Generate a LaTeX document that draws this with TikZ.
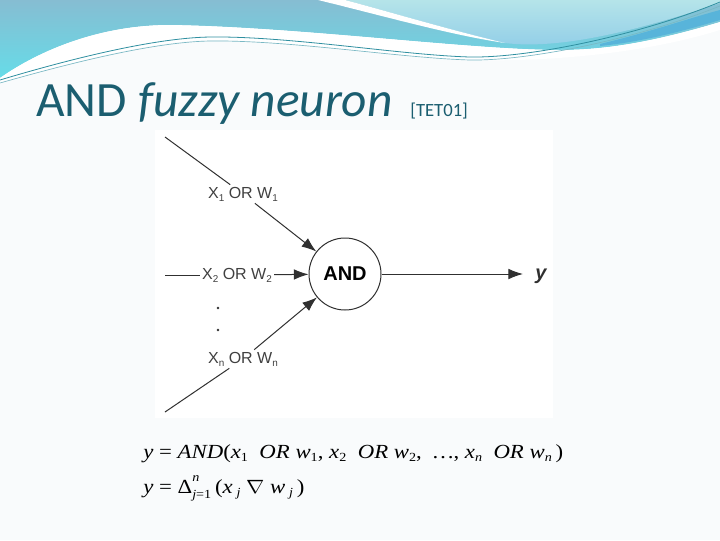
\documentclass[tikz,border=0pt]{standalone}
\usepackage{fontspec}
\usepackage{graphicx}
\setmainfont{Carlito}
\newfontfamily\diafont{Liberation Sans}
\newfontfamily\formfont{Liberation Serif}
\usetikzlibrary{arrows.meta}
\definecolor{titlecol}{HTML}{1B5E70}
\definecolor{wirecol}{HTML}{303030}
\definecolor{labcol}{HTML}{404040}
\definecolor{bgcol}{HTML}{F9FBFC}
\definecolor{hdtop}{HTML}{86BDD2}
\definecolor{hdbot}{HTML}{66DCE8}
\definecolor{ltop}{HTML}{B5E4E9}
\definecolor{lbot}{HTML}{90CDE8}
\definecolor{band}{HTML}{58B4DA}
\definecolor{lineA}{HTML}{2F8FA0}
\definecolor{lineB}{HTML}{7AB8C4}
\newcommand\lsub[1]{\raisebox{-0.35ex}{\scalebox{0.62}{#1}}}
\tikzset{
  wire/.style={draw=wirecol, line width=0.75pt},
  arr/.style={-{Latex[length=11pt,width=8pt]}},
  lab/.style={font=\diafont\fontsize{12pt}{14pt}\selectfont, text=labcol, inner sep=1.5pt},
  formula/.style={font=\formfont\fontsize{15pt}{18pt}\selectfont, anchor=base west, inner sep=0pt}
}
\begin{document}
\begin{tikzpicture}[x=0.75pt,y=-0.75pt]
\useasboundingbox (0,0) rectangle (720,540);
\fill[bgcol] (0,0) rectangle (720,540);
% header swooshes
\shade[top color=hdtop, bottom color=hdbot]
  (0,0) -- (720,0) -- (720,22) .. controls (660,40) and (610,50) .. (560,50)
  .. controls (470,50) and (300,27) .. (170,25) .. controls (100,25) and (40,50) .. (0,78) -- cycle;
\shade[top color=ltop, bottom color=lbot]
  (345,0) .. controls (390,12) and (450,30) .. (505,43) .. controls (560,50) and (640,30) .. (720,3) -- (720,0) -- cycle;
\fill[white] (318,0) .. controls (380,15) and (450,35) .. (505,43) .. controls (450,30) and (390,12) .. (345,0) -- cycle;
\fill[band] (600,44) .. controls (650,32) and (690,18) .. (720,10) -- (720,20) .. controls (680,32) and (640,42) .. (600,46) -- cycle;
\fill[white] (0,78) .. controls (40,50) and (100,25) .. (170,25) .. controls (300,27) and (470,50) .. (560,50)
  .. controls (610,50) and (660,40) .. (720,22) -- (720,30) .. controls (640,55) and (540,62) .. (470,60)
  .. controls (400,58) and (290,40) .. (210,40) .. controls (150,41) and (60,65) .. (0,84) -- cycle;
\draw[lineA, line width=0.6pt] (0,80) .. controls (60,62) and (150,38) .. (210,37) .. controls (290,36) and (400,55) .. (470,57) .. controls (530,58) and (640,35) .. (720,2);
\draw[lineB, line width=0.5pt] (0,83) .. controls (60,66) and (150,42) .. (210,41) .. controls (290,40) and (400,58) .. (470,60) .. controls (530,61) and (640,38) .. (720,6);
% diagram area
\fill[white] (155,130) rectangle (553,418);
% title
\node[anchor=base west, inner sep=0pt, text=titlecol, font=\fontsize{37pt}{42pt}\selectfont] (title) at (36,116) {AND \textit{fuzzy neuron}};
\node[anchor=base west, inner sep=0pt, text=titlecol, font=\fontsize{14pt}{16pt}\selectfont] (ref) at (410,116) {[TET01]};
% neuron
\node[circle, draw=wirecol, line width=0.75pt, minimum size=54pt, inner sep=0pt, font=\diafont\bfseries\fontsize{15pt}{17pt}\selectfont] (and) at (345,274) {AND};
\coordinate (s1) at (165,137);
\coordinate (s2) at (165,275);
\coordinate (s3) at (165,412);
\coordinate (yend) at (523,274);
\node[lab] (l1) at (243,194) {X\lsub{1} OR W\lsub{1}};
\node[lab] (l2) at (237,275) {X\lsub{2} OR W\lsub{2}};
\node[lab] (l3) at (243,359) {X\lsub{n} OR W\lsub{n}};
\node[font=\diafont\bfseries\itshape\fontsize{15pt}{17pt}\selectfont, text=wirecol, inner sep=0pt] (yout) at (541,276) {y};
\draw[wire] (s1) -- (l1);
\draw[wire,arr] (l1) -- (and);
\draw[wire] (s2) -- (l2);
\draw[wire,arr] (l2) -- (and);
\draw[wire] (s3) -- (l3);
\draw[wire,arr] (l3) -- (and);
\draw[wire,arr] (and) -- (yend);
\fill[wirecol] (218,308) circle[radius=1.1pt];
\fill[wirecol] (218,330) circle[radius=1.1pt];
% formulas
\node[formula] (f1) at (143,458) {\scalebox{1.14}[1]{\textit{y} = \textit{AND}(\textit{x}\lsub{1}\ \ \textit{OR w}\lsub{1}, \textit{x}\lsub{2}\ \ \textit{OR w}\lsub{2}, \ \textit{…}, \textit{x}\lsub{\textit{n}}\ \ \textit{OR w}\lsub{\textit{n}}\,)}};
\node[formula] (f2) at (143,493) {\scalebox{1.14}[1]{\textit{y} = Δ\rlap{\raisebox{1.25ex}{\scalebox{0.62}{\textit{n}}}}\raisebox{-0.6ex}{\scalebox{0.62}{\textit{j}=1}}\,(\textit{x}\,\lsub{\textit{j}} $\nabla$ \textit{w}\,\lsub{\textit{j}}\,)}};
\end{tikzpicture}
\end{document}
